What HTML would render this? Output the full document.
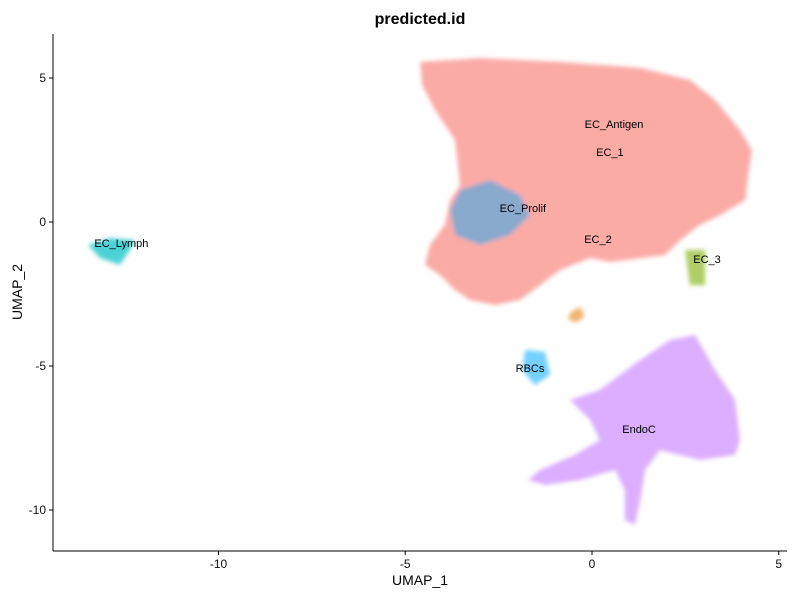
<!DOCTYPE html>
<html><head><meta charset="utf-8"><style>
body{margin:0;background:#fff;font-family:"Liberation Sans",sans-serif}
svg text{font-family:"Liberation Sans",sans-serif}
</style></head><body>
<svg id="chart" width="800" height="600">
<defs><filter id="soft" x="-10%" y="-10%" width="120%" height="120%"><feGaussianBlur stdDeviation="2"/></filter></defs>
<text x="420" y="24" text-anchor="middle" font-size="16" font-weight="bold">predicted.id</text>
<g id="regions" filter="url(#soft)"></g>
<g id="labels"></g>
<g id="axes"></g>
</svg>
<script>
const clusterNames = ["EC_main","EndoC","EC_Prolif","RBCs","EC_Lymph","EC_3","EC_2_patch"];
const clusterColors = ["#F8766D","#C77CFF","#00A9FF","#00A9FF","#00BFC4","#7CAE00","#E68613"];
const clusterOpacity = [0.62,0.62,0.45,0.55,0.7,0.6,0.6];
const clusterX = [
 [-4.6,-3.0,-0.86,1.29,2.62,3.29,3.96,4.28,4.18,4.10,3.43,2.89,2.36,1.95,0.48,-0.05,-0.86,-1.39,-1.93,-2.6,-3.27,-3.67,-4.07,-4.47,-4.34,-3.94,-3.8,-3.53,-3.67,-4.2,-4.55],
 [-0.59,0.21,1.29,2.09,2.76,3.29,3.83,3.96,3.83,2.89,1.82,1.42,1.29,1.15,0.88,0.88,0.62,-0.32,-1.26,-1.71,-1.39,-0.46,0.21,-0.05],
 [-3.53,-2.73,-1.93,-1.66,-2.2,-3.0,-3.67,-3.8],
 [-1.79,-1.26,-1.12,-1.53,-1.87],
 [-13.49,-12.9,-12.24,-12.37,-12.64,-13.17],
 [2.49,3.03,3.03,2.62],
 [-0.55,-0.3,-0.2,-0.45,-0.65]
];
const clusterY = [
 [5.56,5.69,5.56,5.35,4.93,4.24,3.19,2.5,1.63,0.76,0.24,-0.1,-0.63,-1.15,-1.39,-1.25,-1.67,-2.19,-2.71,-2.88,-2.71,-2.36,-1.84,-1.49,-0.8,-0.1,0.76,1.28,2.85,3.89,4.76],
 [-6.18,-5.83,-4.79,-4.1,-3.92,-5.14,-6.18,-7.57,-8.09,-8.26,-7.92,-8.61,-9.65,-10.52,-10.35,-9.31,-8.61,-8.96,-9.13,-8.96,-8.61,-8.09,-7.57,-6.87],
 [1.11,1.46,0.94,0.24,-0.45,-0.8,-0.45,0.42],
 [-4.44,-4.51,-5.31,-5.66,-5.14],
 [-0.8,-0.56,-0.63,-0.97,-1.49,-1.25],
 [-0.97,-0.97,-2.19,-2.19],
 [-3.1,-2.95,-3.3,-3.5,-3.35]
];
const labelText = ["EC_Antigen","EC_1","EC_Prolif","EC_2","EC_3","EC_Lymph","RBCs","EndoC"];
const labelX = [0.59,0.48,-1.85,0.16,3.08,-12.6,-1.66,1.26];
const labelY = [3.4,2.43,0.49,-0.59,-1.28,-0.73,-5.07,-7.19];
const xTicks = [-10,-5,0,5];
const yTicks = [5,0,-5,-10];

const sx = v => 592 + v*37.35;
const sy = v => 222 - v*28.8;
const NS = "http://www.w3.org/2000/svg";
const reg = document.getElementById("regions");
clusterNames.forEach((n,i)=>{
  const p = document.createElementNS(NS,"polygon");
  p.setAttribute("points", clusterX[i].map((x,j)=>sx(x)+","+sy(clusterY[i][j])).join(" "));
  p.setAttribute("fill", clusterColors[i]);
  p.setAttribute("fill-opacity", clusterOpacity[i]);
  
  
  reg.appendChild(p);
});
const lab = document.getElementById("labels");
labelText.forEach((t,i)=>{
  const e = document.createElementNS(NS,"text");
  e.setAttribute("x", sx(labelX[i])); e.setAttribute("y", sy(labelY[i])+4);
  e.setAttribute("text-anchor","middle"); e.setAttribute("font-size","11");
  e.textContent = t;
  
  
  lab.appendChild(e);
});
const ax = document.getElementById("axes");
function add(tag, attrs, text){
  const e = document.createElementNS(NS,tag);
  for(const k in attrs) e.setAttribute(k, attrs[k]);
  if(text!==undefined) e.textContent = text;
  ax.appendChild(e); return e;
}
const xl = add("line",{x1:53,y1:551,x2:787,y2:551,stroke:"#000","stroke-width":1});


const yl = add("line",{x1:53,y1:34,x2:53,y2:551,stroke:"#000","stroke-width":1});


xTicks.forEach(v=>{
  add("line",{x1:sx(v),y1:551,x2:sx(v),y2:555,stroke:"#000"});
  const t = add("text",{x:sx(v),y:568,"text-anchor":"middle","font-size":12,fill:"#111"},String(v));
  
  
});
yTicks.forEach(v=>{
  add("line",{x1:49,y1:sy(v),x2:53,y2:sy(v),stroke:"#000"});
  const t = add("text",{x:46,y:sy(v)+4,"text-anchor":"end","font-size":12,fill:"#111"},String(v));
  
  
});
const xt = add("text",{x:420,y:585,"text-anchor":"middle","font-size":14},"UMAP_1");


const yt = add("text",{x:22,y:292,"text-anchor":"middle","font-size":14,transform:"rotate(-90 22 292)"},"UMAP_2");


</script>
</body></html>
